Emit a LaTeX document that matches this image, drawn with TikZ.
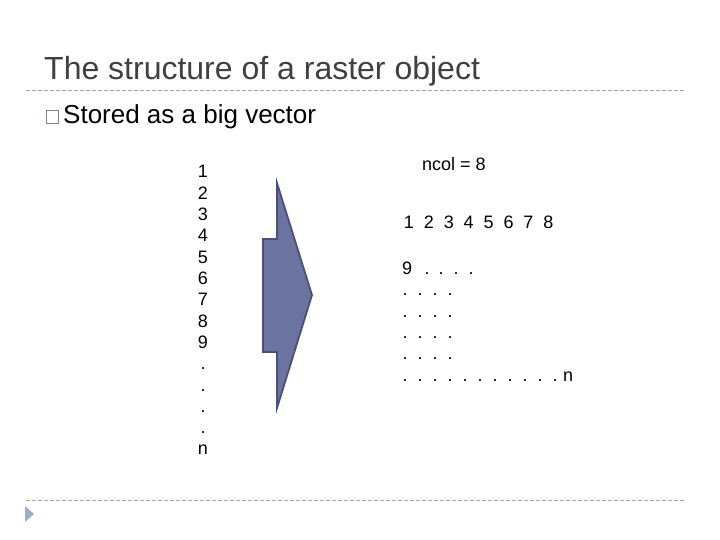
\documentclass[tikz,border=0pt]{standalone}
\usepackage{fontspec}
\setmainfont{Liberation Sans}
\definecolor{titlegray}{HTML}{404040}
\definecolor{rulegray}{HTML}{A6A6A6}
\definecolor{bulletgray}{HTML}{7F8390}
\definecolor{arrowfill}{HTML}{6B73A0}
\definecolor{arrowedge}{HTML}{4A5078}
\definecolor{tri}{HTML}{9AAEC6}
\tikzset{
  rulerline/.style={draw=rulegray, line width=0.9pt, dash pattern=on 4pt off 2pt},
  vecnum/.style={inner sep=0pt, anchor=base, font=\fontsize{18}{20}\selectfont},
  gridtxt/.style={inner sep=0pt, anchor=base west, font=\fontsize{18}{20}\selectfont},
  griddot/.style={inner sep=0pt, anchor=base, font=\fontsize{18}{20}\selectfont},
}
\begin{document}
\begin{tikzpicture}[x=1pt,y=-1pt]
\useasboundingbox (0,0) rectangle (720,540);
% title
\node[inner sep=0pt, anchor=base west, text=titlegray, font=\fontsize{32}{36}\selectfont] (title) at (44,80) {The structure of a raster object};
\draw[rulerline] (26,90) -- (686,90);
\draw[rulerline] (26,500) -- (686,500);
\fill[tri] (25,506) -- (34,514) -- (25,522) -- cycle;
% bullet
\draw[bulletgray, line width=1.1pt] (46.5,110.5) rectangle (58.5,123.5);
\node[inner sep=0pt, anchor=base west, font=\fontsize{26}{30}\selectfont] (stored) at (63,124) {Stored as a big vector};
% left column
\foreach \t [count=\k from 0] in {1,2,3,4,5,6,7,8,9,.,.,.,.,n}
  \node[vecnum] (v\k) at (203,178+21.3*\k) {\t};
% arrow
\draw[fill=arrowfill, draw=arrowedge, line width=1.8pt, line join=miter]
  (277,183) -- (312,295) -- (277,408) -- (277,352) -- (263,352) -- (263,239) -- (277,239) -- cycle;
% right block
\node[gridtxt] (ncol) at (422,171) {ncol = 8};
\foreach \k in {1,...,8}
  \node[griddot] (c\k) at (409+19.9*\k-19.9,228.5) {\k};
\node[gridtxt] (nine) at (402,274) {9};
\foreach \x [count=\k] in {427,441,456,471}
  \node[griddot] (r1d\k) at (\x,274) {.};
\foreach \y [count=\r] in {295,317,338,359}
  \foreach \k in {0,...,3}
    \node[griddot] (r\r d\k) at (405+15*\k,\y) {.};
\foreach \k in {0,...,10}
  \node[griddot] (last\k) at (405+15*\k,381) {.};
\node[gridtxt] (nlast) at (563,381) {n};
\end{tikzpicture}
\end{document}
